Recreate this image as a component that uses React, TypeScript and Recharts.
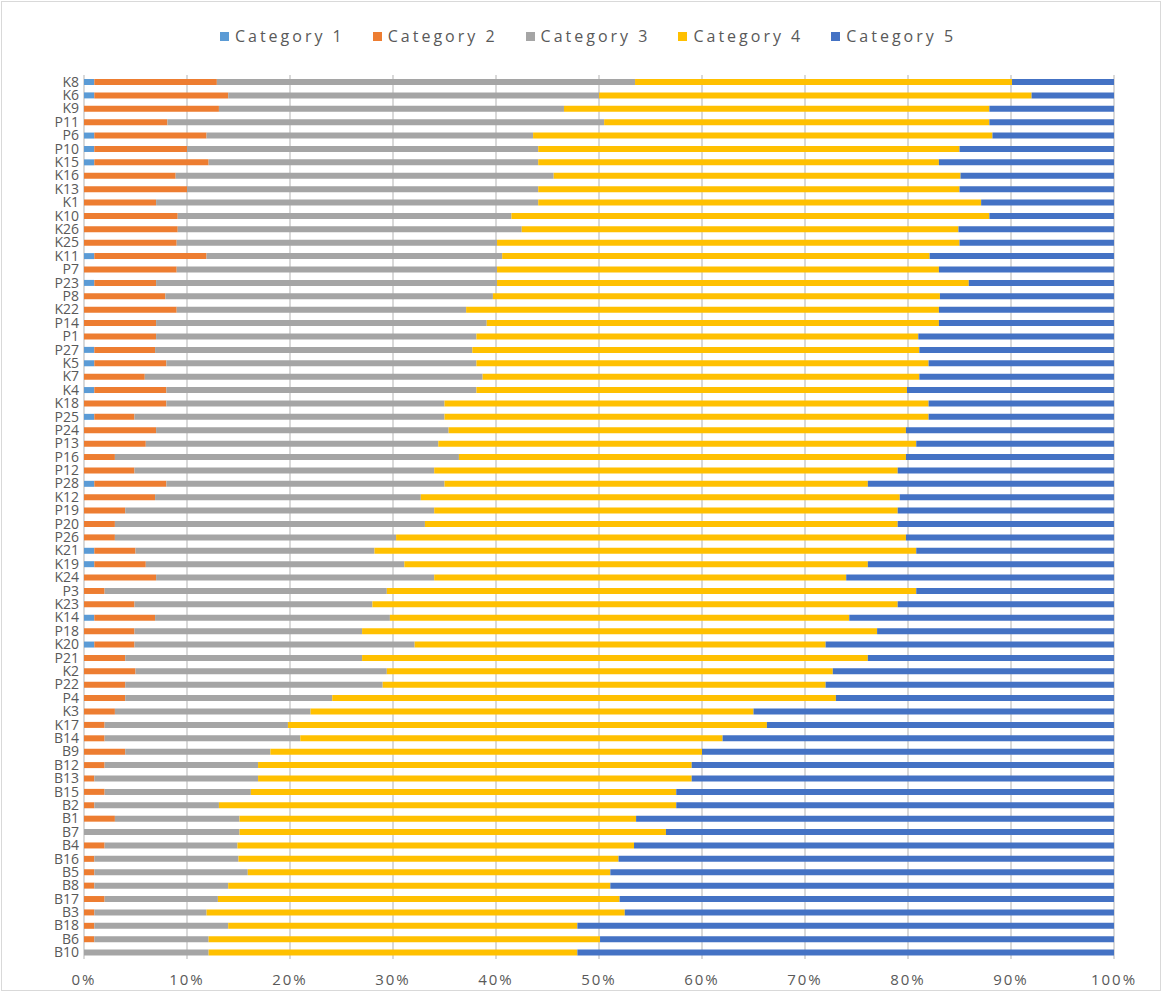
import React from 'react';
import { BarChart, Bar, XAxis, YAxis, CartesianGrid, Legend } from 'recharts';

const categories = [
  'K8','K6','K9','P11','P6','P10','K15','K16','K13','K1',
  'K10','K26','K25','K11','P7','P23','P8','K22','P14','P1',
  'P27','K5','K7','K4','K18','P25','P24','P13','P16','P12',
  'P28','K12','P19','P20','P26','K21','K19','K24','P3','K23',
  'K14','P18','K20','P21','K2','P22','P4','K3','K17','B14',
  'B9','B12','B13','B15','B2','B1','B7','B4','B16','B5',
  'B8','B17','B3','B18','B6','B10',
];

const category1 = [
  1,1,0,0,1,1,1,0,0,0,
  0,0,0,1,0,1,0,0,0,0,
  1,1,0,1,0,1,0,0,0,0,
  1,0,0,0,0,1,1,0,0,0,
  1,0,1,0,0,0,0,0,0,0,
  0,0,0,0,0,0,0,0,0,0,
  0,0,0,0,0,0,
];

const category2 = [
  11.9,13.0,13.1,8.1,10.9,9.0,11.1,8.9,10.0,7.0,
  9.1,9.1,9.0,10.9,9.0,6.0,7.9,9.0,7.0,7.0,
  5.9,7.0,5.9,7.0,8.0,3.9,7.0,6.0,3.0,4.9,
  7.0,6.9,4.0,3.0,3.0,4.0,5.0,7.0,2.0,4.9,
  5.9,4.9,3.9,4.0,5.0,4.0,4.0,3.0,2.0,2.0,
  4.0,2.0,1.0,2.0,1.0,3.0,0,2.0,1.0,1.0,
  1.0,2.0,1.0,1.0,1.0,0,
];

const category3 = [
  40.6,36.0,33.5,42.4,31.7,34.1,32.0,36.7,34.1,37.1,
  32.4,33.4,31.1,28.7,31.1,33.1,31.8,28.1,32.1,31.1,
  30.8,30.1,32.8,30.1,27.0,30.1,28.4,28.4,33.4,29.1,
  27.0,25.8,30.0,30.1,27.3,23.2,25.1,27.0,27.4,23.1,
  22.8,22.1,27.2,23.0,24.4,25.0,20.1,19.0,17.8,19.0,
  14.1,14.9,15.9,14.2,12.1,12.1,15.1,12.9,14.0,14.9,
  13.0,11.0,10.9,13.0,11.1,12.1,
];

const category4 = [
  36.6,42.0,41.3,37.4,44.6,40.9,38.9,39.5,40.9,43.0,
  46.4,42.4,44.9,41.5,42.9,45.8,43.4,45.9,43.9,42.9,
  43.4,43.9,42.4,41.8,47.0,47.0,44.4,46.4,43.4,45.0,
  41.1,46.5,45.0,45.9,49.5,52.6,45.0,40.0,51.4,51.0,
  44.6,50.0,39.9,49.1,43.3,43.0,48.9,43.0,46.5,41.0,
  41.9,42.1,42.1,41.3,44.4,38.5,41.4,38.5,36.9,35.2,
  37.1,39.0,40.6,33.9,38.0,35.8,
];

const category5 = [
  9.9,8.0,12.1,12.1,11.8,15.0,17.0,14.9,15.0,12.9,
  12.1,15.1,15.0,17.9,17.0,14.1,16.9,17.0,17.0,19.0,
  18.9,18.0,18.9,20.1,18.0,18.0,20.2,19.2,20.2,21.0,
  23.9,20.8,21.0,21.0,20.2,19.2,23.9,26.0,19.2,21.0,
  25.7,23.0,28.0,23.9,27.3,28.0,27.0,35.0,33.7,38.0,
  40.0,41.0,41.0,42.5,42.5,46.4,43.5,46.6,48.1,48.9,
  48.9,48.0,47.5,52.1,49.9,52.1,
];

const xTicks = [0, 0.1, 0.2, 0.3, 0.4, 0.5, 0.6, 0.7, 0.8, 0.9, 1];

const seriesNames = ['Category 1', 'Category 2', 'Category 3', 'Category 4', 'Category 5'];
const seriesKeys = ['c1', 'c2', 'c3', 'c4', 'c5'];
const seriesColors = ['#5B9BD5', '#ED7D31', '#A5A5A5', '#FFC000', '#4472C4'];

const data = categories.map((name, i) => ({
  name,
  c1: category1[i],
  c2: category2[i],
  c3: category3[i],
  c4: category4[i],
  c5: category5[i],
}));

const FONT = '"Open Sans", "Liberation Sans", sans-serif';

const LegendContent = () => (
  <div
    style={{
      display: 'flex',
      justifyContent: 'center',
      alignItems: 'center',
      gap: 28,
      height: 24,
      fontFamily: FONT,
      fontSize: 16,
      letterSpacing: 3,
      color: '#595959',
    }}
  >
    {seriesNames.map((n, i) => (
      <div key={n} style={{ display: 'flex', alignItems: 'center' }}>
        <span
          style={{
            display: 'inline-block',
            width: 9,
            height: 9,
            background: seriesColors[i],
            marginRight: 6,
          }}
        />
        <span>{n}</span>
      </div>
    ))}
  </div>
);

export default function App() {
  return (
    <div style={{ position: 'absolute', left: 0, top: 0, width: 1164, height: 994, background: '#fff' }}>
      <div
        style={{
          position: 'absolute',
          left: 1,
          top: 1,
          width: 1160,
          height: 990,
          border: '1px solid #d9d9d9',
          boxSizing: 'border-box',
        }}
      />
      <div style={{ position: 'absolute', left: 0, top: 0 }}>
        <BarChart
          width={1164}
          height={994}
          data={data}
          layout="vertical"
          stackOffset="expand"
          margin={{ top: 51, right: 50, bottom: 5, left: 0 }}
        >
          <CartesianGrid horizontal={false} stroke="#d9d9d9" strokeWidth={2} />
          <XAxis
            type="number"
            domain={[0, 1]}
            ticks={xTicks}
            tickFormatter={(v: number) => `${Math.round(v * 100)}%`}
            axisLine={false}
            tickLine={false}
            tickSize={0}
            tickMargin={15}
            height={30}
            tick={{ fill: '#595959', fontSize: 15, fontFamily: FONT, letterSpacing: 2 }}
          />
          <YAxis
            type="category"
            dataKey="name"
            width={84}
            interval={0}
            axisLine={false}
            tickLine={false}
            tickSize={0}
            tickMargin={5}
            tick={{ fill: '#595959', fontSize: 14, fontFamily: FONT }}
          />
          <Legend
            verticalAlign="top"
            align="center"
            content={<LegendContent />}
            wrapperStyle={{ top: 24, left: 6, width: 1164 }}
          />
          {seriesKeys.map((k, i) => (
            <Bar
              key={k}
              dataKey={k}
              name={seriesNames[i]}
              stackId="a"
              fill={seriesColors[i]}
              barSize={6}
              isAnimationActive={false}
            />
          ))}
        </BarChart>
      </div>
    </div>
  );
}
